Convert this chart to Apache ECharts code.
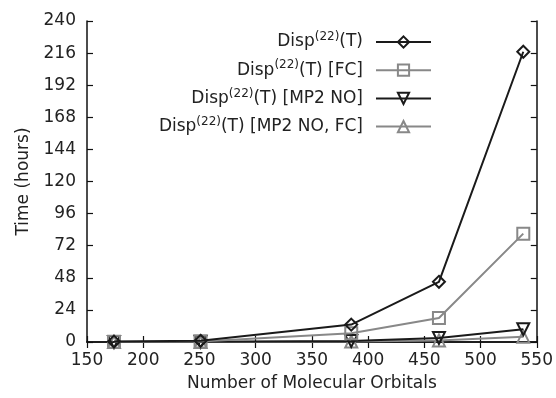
<!DOCTYPE html>
<html>
<head>
<meta charset="utf-8">
<script src="https://cdn.jsdelivr.net/npm/echarts@6/dist/echarts.min.js"></script>
<style>html,body{margin:0;padding:0;background:#fff}#c{width:556px;height:398px}</style>
</head>
<body>
<div id="c"></div>
<script>
var orbitals = [174, 251, 385, 463, 538];
var dispT = [0.3, 0.9, 13, 45, 217];
var dispTFC = [0.1, 0.4, 6.5, 18, 81];
var dispTMP2NO = [0.05, 0.1, 0.8, 3, 9.5];
var dispTMP2NOFC = [0.02, 0.05, 0.4, 1.2, 4];
var seriesNames = ['Disp(22)(T)', 'Disp(22)(T) [FC]', 'Disp(22)(T) [MP2 NO]', 'Disp(22)(T) [MP2 NO, FC]'];
var legendSuffix = ['(T)', '(T) [FC]', '(T) [MP2 NO]', '(T) [MP2 NO, FC]'];
var xTicks = {min: 150, max: 550, interval: 50};
var yTicks = {min: 0, max: 240, interval: 24};

var font = 'DejaVu Sans, sans-serif';
var black = '#1a1a1a', gray = '#888888';
function pairs(v){ return orbitals.map(function(x,i){ return [x, v[i]]; }); }
function mk(i, data, color, symbol, rot){
  return {
    name: seriesNames[i], type: 'line', data: pairs(data),
    symbol: symbol, symbolSize: 12, symbolRotate: rot || 0,
    lineStyle: {color: color, width: 2},
    itemStyle: {color: 'rgba(255,255,255,0)', borderColor: color, borderWidth: 2},
    emphasis: {disabled: true}, animation: false, z: 10 - i
  };
}
var chart = echarts.init(document.getElementById('c'));
chart.setOption({
  animation: false,
  grid: {left: 87, right: 18, top: 21, bottom: 56},
  legend: {
    orient: 'vertical', align: 'right', right: 119, top: 26,
    itemWidth: 55, itemHeight: 14, itemGap: 8.7,
    data: seriesNames,
    formatter: function(n){ var i = seriesNames.indexOf(n); return '{a|Disp}{s|(22)}{a|' + legendSuffix[i] + '}'; },
    textStyle: {
      fontFamily: font, color: '#222', padding: [0, 8, 0, 0],
      rich: {
        a: {fontSize: 17, fontFamily: font, color: '#222', lineHeight: 22},
        s: {fontSize: 12, fontFamily: font, color: '#222', lineHeight: 11, verticalAlign: 'top'}
      }
    }
  },
  xAxis: [{
    type: 'value', min: xTicks.min, max: xTicks.max, interval: xTicks.interval,
    name: 'Number of Molecular Orbitals', nameLocation: 'middle', nameGap: 33,
    nameTextStyle: {fontFamily: font, fontSize: 17, color: '#222'},
    axisLine: {lineStyle: {color: '#111', width: 1.5}},
    axisTick: {inside: true, length: 6, lineStyle: {color: '#111', width: 1.2}},
    axisLabel: {fontFamily: font, fontSize: 17, color: '#222', margin: 10},
    splitLine: {show: false}
  }, {
    type: 'value', position: 'top', min: xTicks.min, max: xTicks.max, interval: xTicks.interval,
    axisLine: {show: true, lineStyle: {color: '#111', width: 1.5}},
    axisTick: {inside: true, length: 6, lineStyle: {color: '#111', width: 1.2}},
    axisLabel: {show: false}, splitLine: {show: false}
  }],
  yAxis: [{
    type: 'value', min: yTicks.min, max: yTicks.max, interval: yTicks.interval,
    name: 'Time (hours)', nameLocation: 'middle', nameGap: 55,
    nameTextStyle: {fontFamily: font, fontSize: 17, color: '#222'},
    axisLine: {show: true, lineStyle: {color: '#111', width: 1.5}},
    axisTick: {show: true, inside: true, length: 6, lineStyle: {color: '#111', width: 1.2}},
    axisLabel: {fontFamily: font, fontSize: 17, color: '#222', margin: 11},
    splitLine: {show: false}
  }, {
    type: 'value', position: 'right', min: yTicks.min, max: yTicks.max, interval: yTicks.interval,
    axisLine: {show: true, lineStyle: {color: '#111', width: 1.5}},
    axisTick: {show: true, inside: true, length: 6, lineStyle: {color: '#111', width: 1.2}},
    axisLabel: {show: false}, splitLine: {show: false}
  }],
  series: [
    mk(0, dispT, black, 'diamond'),
    mk(1, dispTFC, gray, 'rect'),
    mk(2, dispTMP2NO, black, 'triangle', 180),
    mk(3, dispTMP2NOFC, gray, 'triangle')
  ]
});
</script>
</body>
</html>
